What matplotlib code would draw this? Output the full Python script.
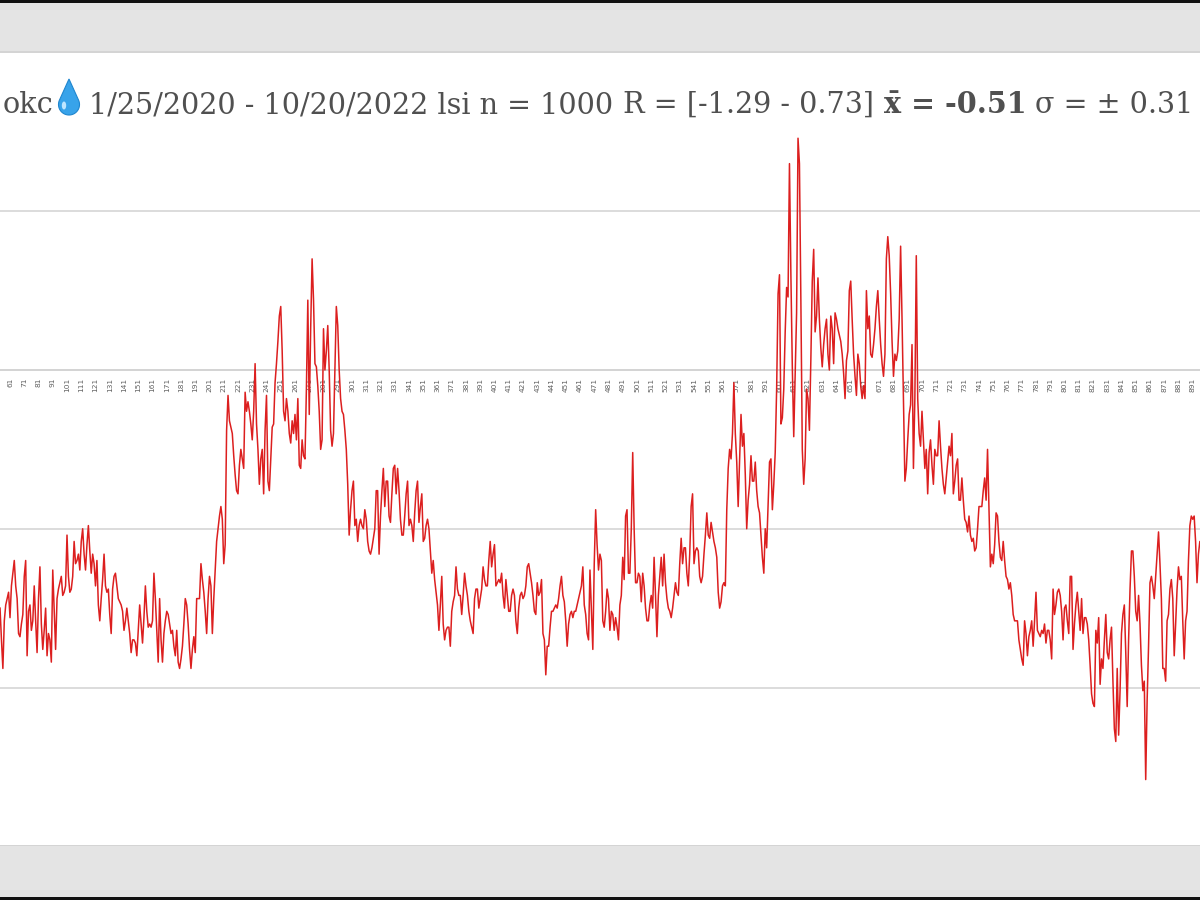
import numpy as np
import matplotlib
matplotlib.use("Agg")
import matplotlib.pyplot as plt
from matplotlib.patches import Rectangle, Polygon

# visible part of the series (the screenshot is cropped left and right)
first_day = 54
lsi = [
    -0.75, -0.85, -0.94, -0.79, -0.74, -0.72, -0.70,
    -0.78, -0.68, -0.64, -0.60, -0.68, -0.72, -0.83, -0.84, -0.80, -0.77,
    -0.65, -0.60, -0.90, -0.76, -0.74, -0.82, -0.79, -0.68, -0.79, -0.89,
    -0.72, -0.62, -0.80, -0.88, -0.82, -0.75, -0.90, -0.83, -0.85, -0.92,
    -0.63, -0.76, -0.88, -0.72, -0.69, -0.67, -0.65, -0.71, -0.70, -0.68,
    -0.52, -0.65, -0.70, -0.69, -0.65, -0.54, -0.61, -0.60, -0.58, -0.63,
    -0.54, -0.50, -0.58, -0.63, -0.55, -0.49, -0.57, -0.64, -0.58, -0.61,
    -0.68, -0.60, -0.74, -0.79, -0.72, -0.66, -0.58, -0.68, -0.70, -0.69,
    -0.77, -0.83, -0.69, -0.65, -0.64, -0.68, -0.72, -0.73, -0.74, -0.76,
    -0.82, -0.79, -0.75, -0.79, -0.83, -0.89, -0.85, -0.85, -0.86, -0.90,
    -0.82, -0.74, -0.80, -0.86, -0.78, -0.68, -0.76, -0.81, -0.80, -0.81,
    -0.79, -0.64, -0.72, -0.82, -0.92, -0.72, -0.85, -0.92, -0.83, -0.79,
    -0.76, -0.77, -0.80, -0.83, -0.82, -0.87, -0.90, -0.82, -0.92, -0.94,
    -0.91, -0.87, -0.80, -0.72, -0.74, -0.80, -0.88, -0.94, -0.88, -0.84,
    -0.89, -0.72, -0.72, -0.72, -0.61, -0.66, -0.70, -0.76, -0.83, -0.72,
    -0.65, -0.68, -0.83, -0.72, -0.63, -0.54, -0.50, -0.46, -0.43, -0.47,
    -0.61, -0.55, -0.19, -0.08, -0.16, -0.18, -0.20, -0.27, -0.33, -0.38,
    -0.39, -0.30, -0.25, -0.28, -0.31, -0.07, -0.13, -0.10, -0.13, -0.17,
    -0.22, -0.13, 0.02, -0.17, -0.25, -0.36, -0.28, -0.25, -0.39, -0.19,
    -0.08, -0.35, -0.38, -0.28, -0.18, -0.17, -0.04, 0.02, 0.09, 0.17,
    0.20, 0.06, -0.13, -0.16, -0.09, -0.13, -0.20, -0.23, -0.16, -0.20,
    -0.14, -0.22, -0.09, -0.30, -0.31, -0.22, -0.27, -0.28, -0.06, 0.22,
    -0.14, 0.13, 0.35, 0.22, 0.02, 0.01, -0.05, -0.13, -0.25, -0.22,
    0.13, 0.00, 0.06, 0.14, 0.00, -0.19, -0.24, -0.20, 0.00, 0.20,
    0.14, 0.00, -0.09, -0.13, -0.14, -0.19, -0.25, -0.36, -0.52, -0.44,
    -0.38, -0.35, -0.49, -0.47, -0.54, -0.49, -0.47, -0.49, -0.50, -0.44,
    -0.47, -0.54, -0.57, -0.58, -0.56, -0.53, -0.50, -0.38, -0.38, -0.58,
    -0.46, -0.38, -0.31, -0.43, -0.35, -0.35, -0.46, -0.48, -0.39, -0.31,
    -0.30, -0.39, -0.31, -0.38, -0.47, -0.52, -0.52, -0.46, -0.39, -0.35,
    -0.49, -0.47, -0.49, -0.54, -0.45, -0.38, -0.35, -0.48, -0.43, -0.39,
    -0.54, -0.53, -0.49, -0.47, -0.50, -0.57, -0.64, -0.60, -0.66, -0.70,
    -0.74, -0.82, -0.74, -0.65, -0.80, -0.85, -0.82, -0.81, -0.81, -0.87,
    -0.76, -0.73, -0.71, -0.62, -0.69, -0.71, -0.71, -0.77, -0.71, -0.64,
    -0.68, -0.71, -0.76, -0.79, -0.81, -0.83, -0.72, -0.69, -0.69, -0.75,
    -0.72, -0.69, -0.62, -0.66, -0.68, -0.68, -0.60, -0.54, -0.62, -0.58,
    -0.55, -0.68, -0.67, -0.66, -0.67, -0.64, -0.71, -0.75, -0.66, -0.71,
    -0.76, -0.76, -0.71, -0.69, -0.71, -0.79, -0.83, -0.75, -0.71, -0.70,
    -0.72, -0.71, -0.68, -0.62, -0.61, -0.64, -0.67, -0.71, -0.76, -0.77,
    -0.67, -0.71, -0.70, -0.66, -0.83, -0.85, -0.96, -0.87, -0.87, -0.81,
    -0.76, -0.76, -0.75, -0.74, -0.75, -0.72, -0.68, -0.65, -0.71, -0.73,
    -0.79, -0.87, -0.80, -0.77, -0.76, -0.78, -0.76, -0.76, -0.74, -0.72,
    -0.70, -0.68, -0.62, -0.74, -0.77, -0.83, -0.85, -0.63, -0.76, -0.88,
    -0.61, -0.44, -0.55, -0.63, -0.58, -0.60, -0.79, -0.81, -0.76, -0.69,
    -0.72, -0.82, -0.76, -0.77, -0.82, -0.78, -0.81, -0.85, -0.74, -0.71,
    -0.59, -0.66, -0.46, -0.44, -0.64, -0.64, -0.50, -0.26, -0.50, -0.67,
    -0.67, -0.64, -0.65, -0.73, -0.64, -0.68, -0.75, -0.79, -0.79, -0.74,
    -0.71, -0.75, -0.59, -0.71, -0.84, -0.71, -0.65, -0.59, -0.68, -0.58,
    -0.67, -0.72, -0.75, -0.76, -0.78, -0.75, -0.71, -0.67, -0.70, -0.71,
    -0.61, -0.53, -0.61, -0.56, -0.56, -0.64, -0.68, -0.58, -0.43, -0.39,
    -0.61, -0.57, -0.56, -0.57, -0.65, -0.67, -0.65, -0.58, -0.52, -0.45,
    -0.52, -0.53, -0.48, -0.51, -0.54, -0.56, -0.59, -0.70, -0.75, -0.73,
    -0.68, -0.67, -0.68, -0.44, -0.31, -0.25, -0.28, -0.20, -0.04, -0.20,
    -0.29, -0.43, -0.29, -0.14, -0.24, -0.20, -0.33, -0.50, -0.41, -0.36,
    -0.27, -0.35, -0.35, -0.29, -0.38, -0.43, -0.45, -0.52, -0.59, -0.64,
    -0.50, -0.56, -0.43, -0.29, -0.28, -0.44, -0.36, -0.26, -0.06, 0.24,
    0.30, -0.17, -0.15, -0.06, 0.12, 0.26, 0.23, 0.65, 0.30, 0.01,
    -0.21, -0.02, 0.18, 0.73, 0.65, 0.22, -0.25, -0.36, -0.28, -0.06,
    -0.09, -0.19, 0.03, 0.28, 0.38, 0.12, 0.17, 0.29, 0.16, 0.07,
    0.01, 0.08, 0.13, 0.16, 0.05, 0.00, 0.17, 0.13, 0.02, 0.18,
    0.16, 0.13, 0.11, 0.09, 0.05, -0.01, -0.09, 0.03, 0.06, 0.25,
    0.28, 0.16, 0.05, -0.02, -0.08, 0.05, 0.02, -0.05, -0.09, -0.05,
    -0.09, 0.25, 0.13, 0.17, 0.05, 0.04, 0.08, 0.13, 0.20, 0.25,
    0.16, 0.08, 0.02, -0.02, 0.05, 0.35, 0.42, 0.36, 0.24, 0.09,
    -0.02, 0.05, 0.03, 0.06, 0.16, 0.39, 0.16, -0.09, -0.35, -0.31,
    -0.22, -0.14, -0.11, 0.08, -0.31, -0.09, 0.36, -0.09, -0.20, -0.24,
    -0.13, -0.22, -0.31, -0.25, -0.39, -0.26, -0.22, -0.30, -0.36, -0.25,
    -0.27, -0.27, -0.16, -0.24, -0.31, -0.36, -0.39, -0.34, -0.29, -0.24,
    -0.27, -0.20, -0.39, -0.35, -0.30, -0.28, -0.41, -0.41, -0.34, -0.41,
    -0.47, -0.48, -0.51, -0.46, -0.52, -0.54, -0.53, -0.57, -0.56, -0.50,
    -0.43, -0.43, -0.43, -0.38, -0.34, -0.41, -0.25, -0.44, -0.62, -0.58,
    -0.61, -0.55, -0.45, -0.46, -0.54, -0.59, -0.60, -0.54, -0.60, -0.65,
    -0.66, -0.69, -0.67, -0.71, -0.77, -0.79, -0.79, -0.79, -0.85, -0.88,
    -0.91, -0.93, -0.79, -0.83, -0.90, -0.84, -0.82, -0.79, -0.87, -0.79,
    -0.70, -0.82, -0.83, -0.84, -0.82, -0.83, -0.80, -0.86, -0.82, -0.82,
    -0.85, -0.91, -0.69, -0.77, -0.74, -0.70, -0.69, -0.71, -0.76, -0.85,
    -0.75, -0.74, -0.79, -0.83, -0.65, -0.65, -0.88, -0.80, -0.74, -0.70,
    -0.76, -0.82, -0.72, -0.83, -0.78, -0.78, -0.80, -0.85, -0.93, -1.02,
    -1.05, -1.06, -0.82, -0.86, -0.78, -0.99, -0.91, -0.94, -0.85, -0.77,
    -0.89, -0.91, -0.85, -0.81, -0.98, -1.13, -1.17, -0.94, -1.15, -1.01,
    -0.83, -0.77, -0.74, -0.89, -1.06, -0.85, -0.69, -0.57, -0.57, -0.65,
    -0.76, -0.79, -0.71, -0.80, -0.93, -1.01, -0.98, -1.29, -1.04, -0.87,
    -0.67, -0.65, -0.68, -0.72, -0.65, -0.58, -0.51, -0.61, -0.72, -0.94,
    -0.94, -0.98, -0.79, -0.77, -0.69, -0.66, -0.72, -0.90, -0.80, -0.69,
    -0.62, -0.66, -0.65, -0.79, -0.91, -0.79, -0.76, -0.60, -0.49, -0.46,
    -0.47, -0.46, -0.54, -0.67, -0.58, -0.54, -0.56, -0.60,
]
days = np.arange(first_day, first_day + len(lsi))
tick_days = list(range(1, 1001, 10))
grid_levels = [0.5, 0.0, -0.5, -1.0]

title_left = "okc"
title_main = "1/25/2020 - 10/20/2022 lsi n = 1000"
title_range = "R = [-1.29 - 0.73]"
title_mean = "x\u0304 = -0.51"
title_sd = "\u03c3 = \u00b1 0.31"

W, H = 1200, 900
fig = plt.figure(figsize=(W / 100, H / 100), dpi=100)
fig.patch.set_facecolor("white")


def px(x, y):
    # image pixel (top-left origin) -> figure fraction
    return x / W, 1 - y / H


# grey bars of the screenshot, top and bottom
fig.add_artist(Rectangle(px(0, 52), 1, 52 / H, transform=fig.transFigure, color="#e4e4e4", lw=0))
fig.add_artist(Rectangle(px(0, 3), 1, 3 / H, transform=fig.transFigure, color="#111111", lw=0))
fig.add_artist(Rectangle(px(0, 900), 1, 55 / H, transform=fig.transFigure, color="#e4e4e4", lw=0))
fig.add_artist(Rectangle(px(0, 900), 1, 3 / H, transform=fig.transFigure, color="#111111", lw=0))
fig.add_artist(Rectangle(px(0, 53), 1, 1.5 / H, transform=fig.transFigure, color="#d4d4d4", lw=0))
fig.add_artist(Rectangle(px(0, 846), 1, 1.5 / H, transform=fig.transFigure, color="#d4d4d4", lw=0))

# plot area: y = 0 sits at pixel row 370, one unit = 317.5 px
ax = fig.add_axes([0, 60 / H, 1, 720 / H])
x0, x1 = 53.98, 896.1
ax.patch.set_alpha(0)

for lv in grid_levels:
    ax.axhline(lv, color="#d9d9d9", lw=1.3, zorder=0)

for s in ["top", "left", "right"]:
    ax.spines[s].set_visible(False)
ax.spines["bottom"].set_position(("data", 0))
ax.spines["bottom"].set_color("#d4d4d4")
ax.spines["bottom"].set_linewidth(1.3)
ax.set_yticks([])
shown = [d for d in tick_days if x0 + 3 < d < x1 - 2]
ax.set_xticks(shown)
ax.set_xticklabels([str(d) for d in shown], rotation=90, fontsize=5.3,
                   color="#5f5f5f", family="DejaVu Sans")
ax.tick_params(axis="x", length=0, pad=5.5)

ax.plot(days, lsi, color="#dc1f1f", lw=1.1, zorder=3)
ax.set_xlim(x0, x1)
ax.set_ylim((370 - 840) / 317.5, (370 - 120) / 317.5)

# title, cropped on the left like the screenshot
base_y = px(0, 113)[1]
tkw = dict(color="#505050", family="DejaVu Serif", va="baseline", ha="left")
renderer = fig.canvas.get_renderer()

# one common size so that the run from the date to "0.31" spans 89..1194 px
pieces = [(title_main, "normal"), (title_range, "normal"),
          (title_mean, "bold"), (title_sd, "normal")]
trial = 22.0
arts, widths = [], []
for text, wt in pieces:
    t = fig.text(0, base_y, text, fontsize=trial, fontweight=wt, **tkw)
    arts.append(t)
    widths.append(t.get_window_extent(renderer).width)
gap = 0.32 * trial * 100 / 72
scale = (1194 - 89) / (sum(widths) + gap * (len(pieces) - 1))
size = trial * scale
xcur = 89.0
for t, w in zip(arts, widths):
    t.set_fontsize(size)
    t.set_x(xcur / W)
    xcur += (w + gap) * scale

fig.text(px(53, 0)[0], base_y, title_left, fontsize=size,
         **dict(tkw, ha="right"))

# water drop emoji drawn as a shape
cx, cy, r, tip = 69.0, 104.5, 10.5, 79.0
a = np.arccos(r / (cy - tip))
ang = np.linspace(-np.pi / 2 + a, 3 * np.pi / 2 - a, 60)
drop = [px(69, tip)] + [px(cx + r * np.cos(t), cy + r * np.sin(t)) for t in ang]
fig.add_artist(Polygon(drop, closed=True, transform=fig.transFigure,
                       facecolor="#38a3ea", edgecolor="#1f86cf", lw=0.8))
hl = [px(cx - 5 + 2.2 * np.cos(t), cy + 1 + 4 * np.sin(t)) for t in np.linspace(0, 2 * np.pi, 30)]
fig.add_artist(Polygon(hl, closed=True, transform=fig.transFigure,
                       facecolor="#bfe6ff", edgecolor="none"))

fig.savefig("out.png", dpi=100)
